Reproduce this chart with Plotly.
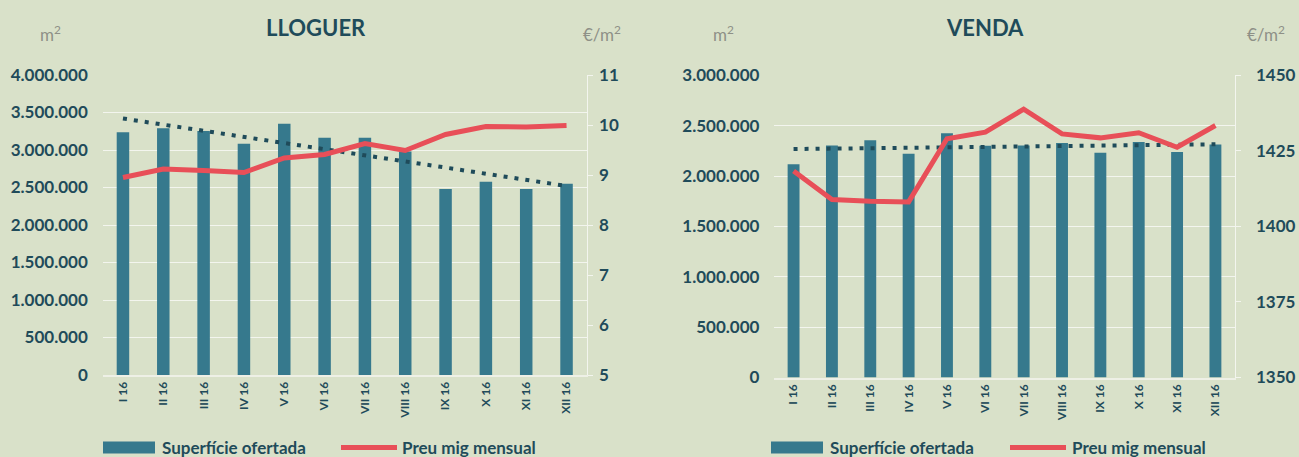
import plotly.graph_objects as go

MONTHS = ["I 16", "II 16", "III 16", "IV 16", "V 16", "VI 16",
          "VII 16", "VIII 16", "IX 16", "X 16", "XI 16", "XII 16"]

# LLOGUER
LLOGUER_SUPERFICIE = [3236000, 3289000, 3253000, 3084000, 3351000, 3164000,
                      3164000, 2980000, 2480000, 2578000, 2480000, 2551000]
LLOGUER_PREU = [8.95, 9.12, 9.09, 9.05, 9.34, 9.41,
                9.63, 9.49, 9.81, 9.97, 9.96, 9.99]
LLOGUER_TENDENCIA = [3420000, 2520000]

# VENDA
VENDA_SUPERFICIE = [2116000, 2304000, 2354000, 2221000, 2424000, 2300000,
                    2304000, 2327000, 2231000, 2337000, 2238000, 2314000]
VENDA_PREU = [1418.3, 1408.9, 1408.3, 1408.1, 1429.0, 1431.2,
              1438.8, 1430.6, 1429.3, 1431.0, 1426.2, 1433.4]
VENDA_TENDENCIA = [2268000, 2315000]

TITLES = ["LLOGUER", "VENDA"]
LEGEND = ["Superfície ofertada", "Preu mig mensual"]

BG = "#d9e1c9"
BAR = "#36798d"
RED = "#e84f58"
DARK = "#1f4b5a"
GREY = "#8e9087"
FONT = "Lato, Open Sans, sans-serif"

W, H = 1299, 457


def px_x(v):
    return v / W


def px_y(v):
    return 1 - v / H


fig = go.Figure()

charts = [
    (LLOGUER_SUPERFICIE, LLOGUER_PREU, LLOGUER_TENDENCIA, "x", "y", "y2"),
    (VENDA_SUPERFICIE, VENDA_PREU, VENDA_TENDENCIA, "x2", "y3", "y4"),
]

for sup, preu, trend, xa, ya, ya2 in charts:
    fig.add_trace(go.Bar(
        x=MONTHS, y=sup, xaxis=xa, yaxis=ya,
        marker=dict(color=BAR, line=dict(width=0)),
        name=LEGEND[0], showlegend=False
    ))
    fig.add_trace(go.Scatter(
        x=MONTHS, y=preu, xaxis=xa, yaxis=ya2, mode="lines",
        line=dict(color=RED, width=5),
        name=LEGEND[1], showlegend=False
    ))
    fig.add_trace(go.Scatter(
        x=[MONTHS[0], MONTHS[-1]], y=trend, xaxis=xa, yaxis=ya, mode="lines",
        line=dict(color=DARK, width=4, dash="4px,7px"),
        showlegend=False, hoverinfo="skip"
    ))

tick_font = dict(family=FONT, size=17, color=DARK, weight="bold")
x_font = dict(family=FONT, size=12, color=DARK, weight="bold")

xcommon = dict(type="category", tickangle=-90, tickfont=x_font, showgrid=False,
               showline=True, linecolor="#eef0e6", linewidth=2, ticks="",
               zeroline=False, automargin=False)
ycommon = dict(tickfont=tick_font, gridcolor="#f3f5ee", gridwidth=1,
               showline=False, zeroline=False, ticks="", automargin=False,
               tickformat=",.0f", dtick=500000, ticklabelstandoff=14)
y2common = dict(tickfont=tick_font, showgrid=False, zeroline=False,
                showline=True, linecolor="#f3f5ee", linewidth=1, automargin=False,
                ticks="outside", ticklen=5, tickcolor="#f3f5ee")

fig.update_layout(
    width=W, height=H,
    paper_bgcolor=BG, plot_bgcolor=BG,
    margin=dict(l=0, r=0, t=0, b=0, pad=0),
    separators=",.",
    font=dict(family=FONT, color=DARK),
    bargap=0.69,
    showlegend=False,
    xaxis=dict(domain=[px_x(102.8), px_x(586.7)], anchor="y", **xcommon),
    yaxis=dict(domain=[px_y(375), px_y(75)], anchor="x",
               range=[0, 4000000], **ycommon),
    yaxis2=dict(overlaying="y", side="right", anchor="x",
                range=[5, 11], dtick=1, ticklabelstandoff=3, **y2common),
    xaxis2=dict(domain=[px_x(774.4), px_x(1234.6)], anchor="y3", **xcommon),
    yaxis3=dict(domain=[px_y(377.5), px_y(75.3)], anchor="x2",
                range=[0, 3000000], **ycommon),
    yaxis4=dict(overlaying="y3", side="right", anchor="x2",
                range=[1350, 1450], dtick=25, tickformat="d",
                ticklabelstandoff=12, **y2common),
)

annotations = []
shapes = []

# titles and unit labels
for title, cx, m2x, eurx in [(TITLES[0], 316, 50, 602), (TITLES[1], 985, 723, 1266)]:
    annotations.append(dict(
        text=title, x=px_x(cx), y=px_y(27), xref="paper", yref="paper",
        showarrow=False, xanchor="center", yanchor="middle",
        font=dict(family=FONT, size=22, color=DARK, weight="bold")
    ))
    annotations.append(dict(
        text="m<sup>2</sup>", x=px_x(m2x), y=px_y(33), xref="paper", yref="paper",
        showarrow=False, xanchor="center", yanchor="middle",
        font=dict(family=FONT, size=17, color=GREY)
    ))
    annotations.append(dict(
        text="€/m<sup>2</sup>", x=px_x(eurx), y=px_y(33), xref="paper", yref="paper",
        showarrow=False, xanchor="center", yanchor="middle",
        font=dict(family=FONT, size=17, color=GREY)
    ))

# hand-drawn legends under each chart
for rx0, tx0, lx0, tx1 in [(103, 160, 341, 400), (771, 828, 1010, 1070)]:
    shapes.append(dict(
        type="rect", xref="paper", yref="paper",
        x0=px_x(rx0), x1=px_x(rx0 + 52), y0=px_y(453.5), y1=px_y(441.5),
        fillcolor=BAR, line=dict(width=0)
    ))
    shapes.append(dict(
        type="line", xref="paper", yref="paper",
        x0=px_x(lx0), x1=px_x(lx0 + 56), y0=px_y(447.5), y1=px_y(447.5),
        line=dict(color=RED, width=5)
    ))
    for text, tx in [(LEGEND[0], tx0), (LEGEND[1], tx1)]:
        annotations.append(dict(
            text=text, x=px_x(tx), y=px_y(447.5), xref="paper", yref="paper",
            showarrow=False, xanchor="left", yanchor="middle",
            font=dict(family=FONT, size=17, color=DARK, weight="bold")
        ))

fig.update_layout(annotations=annotations, shapes=shapes)

# the page has a default body margin; drop it so the figure fills the window
fig.write_html(
    "out.html",
    config=dict(displayModeBar=False),
    post_script="document.body.style.margin='0';document.body.style.overflow='hidden';"
)
